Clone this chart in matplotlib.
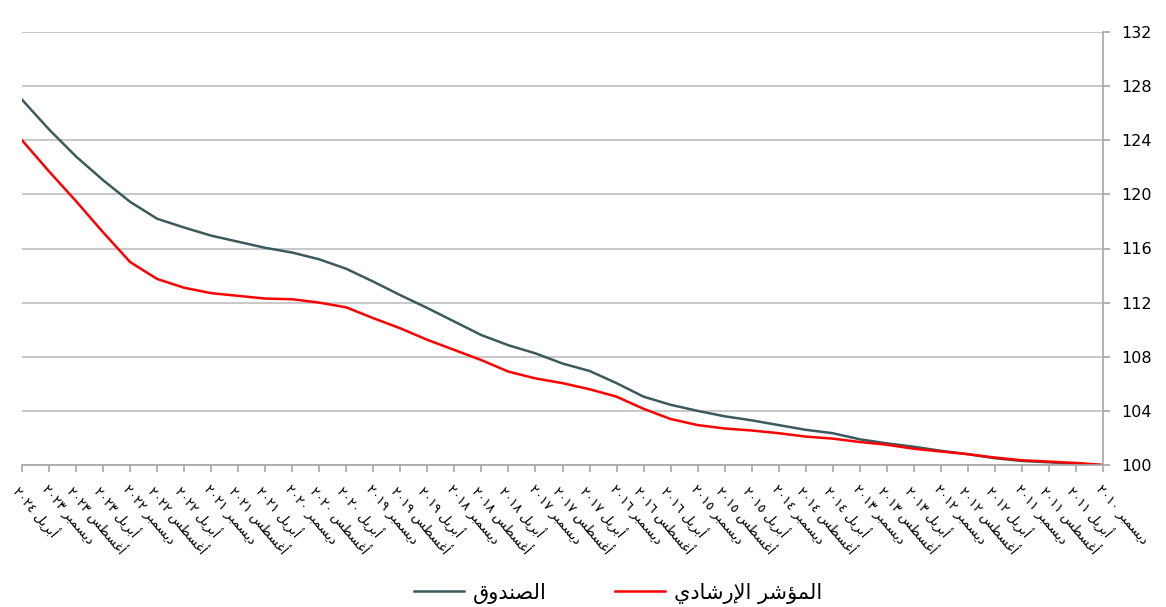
import numpy as np
import matplotlib
matplotlib.use("Agg")
import matplotlib.pyplot as plt

# ---- data (chronological: Dec 2010 -> Apr 2024, every 4 months) ----
months = ["ديسمبر", "أبريل", "أغسطس"]
start_year = 2010
n_points = 41

fund = [100.0, 100.1, 100.2, 100.3, 100.5, 100.8, 101.05, 101.35, 101.6, 101.9,
        102.35, 102.6, 102.95, 103.3, 103.6, 104.0, 104.45, 105.05, 106.05, 106.95,
        107.5, 108.25, 108.85, 109.6, 110.6, 111.6, 112.55, 113.55, 114.5, 115.2,
        115.7, 116.05, 116.5, 116.95, 117.55, 118.2, 119.45, 121.05, 122.8, 124.8,
        127.0]
benchmark = [100.0, 100.15, 100.25, 100.35, 100.55, 100.8, 101.0, 101.2, 101.5, 101.7,
             101.95, 102.1, 102.35, 102.55, 102.7, 102.95, 103.4, 104.15, 105.05, 105.6,
             106.05, 106.4, 106.9, 107.75, 108.5, 109.25, 110.1, 110.85, 111.65, 112.0,
             112.25, 112.3, 112.5, 112.7, 113.1, 113.75, 115.0, 117.2, 119.5, 121.7,
             124.0]

fund_label = "الصندوق"
bench_label = "المؤشر الإرشادي"
yticks = list(range(100, 133, 4))

# ---- minimal Arabic shaping (presentation forms) ----
FORMS = {
    "ا": ("\uFE8D", "\uFE8E", None, None),
    "أ": ("\uFE83", "\uFE84", None, None),
    "إ": ("\uFE87", "\uFE88", None, None),
    "ؤ": ("\uFE85", "\uFE86", None, None),
    "د": ("\uFEA9", "\uFEAA", None, None),
    "ر": ("\uFEAD", "\uFEAE", None, None),
    "و": ("\uFEED", "\uFEEE", None, None),
    "ب": ("\uFE8F", "\uFE90", "\uFE91", "\uFE92"),
    "س": ("\uFEB1", "\uFEB2", "\uFEB3", "\uFEB4"),
    "ش": ("\uFEB5", "\uFEB6", "\uFEB7", "\uFEB8"),
    "ص": ("\uFEB9", "\uFEBA", "\uFEBB", "\uFEBC"),
    "ط": ("\uFEC1", "\uFEC2", "\uFEC3", "\uFEC4"),
    "غ": ("\uFECD", "\uFECE", "\uFECF", "\uFED0"),
    "ق": ("\uFED5", "\uFED6", "\uFED7", "\uFED8"),
    "ل": ("\uFEDD", "\uFEDE", "\uFEDF", "\uFEE0"),
    "م": ("\uFEE1", "\uFEE2", "\uFEE3", "\uFEE4"),
    "ن": ("\uFEE5", "\uFEE6", "\uFEE7", "\uFEE8"),
    "ي": ("\uFEF1", "\uFEF2", "\uFEF3", "\uFEF4"),
    "\uFEF9": ("\uFEF9", "\uFEFA", None, None),
    "\uFEF7": ("\uFEF7", "\uFEF8", None, None),
    "\uFEFB": ("\uFEFB", "\uFEFC", None, None),
}


def shape(text):
    text = text.replace("لإ", "\uFEF9").replace("لأ", "\uFEF7").replace("لا", "\uFEFB")
    out = []
    for i, ch in enumerate(text):
        if ch not in FORMS:
            out.append(ch)
            continue
        prev = text[i - 1] if i > 0 else None
        nxt = text[i + 1] if i + 1 < len(text) else None
        joins_prev = prev in FORMS and FORMS[prev][2] is not None
        joins_next = FORMS[ch][2] is not None and nxt in FORMS
        iso, fin, ini, med = FORMS[ch]
        if joins_prev and joins_next:
            out.append(med)
        elif joins_prev:
            out.append(fin)
        elif joins_next:
            out.append(ini)
        else:
            out.append(iso)
    return "".join(reversed(out))


def arabic_digits(n):
    return "".join(chr(0x0660 + int(d)) for d in str(n))


labels = []
for i in range(n_points):
    m = 11 + 4 * i  # month index from Dec 2010
    year = start_year + m // 12
    labels.append(arabic_digits(year) + " " + shape(months[i % 3]))

x = np.arange(n_points)

fig = plt.figure(figsize=(11.66, 6.07), dpi=100)
ax = fig.add_axes([22 / 1166, 1 - 465 / 607, (1103 - 22) / 1166, (465 - 32) / 607])

ax.plot(x, fund, color="#3b5a5e", linewidth=1.8, label=shape(fund_label))
ax.plot(x, benchmark, color="#ff0000", linewidth=1.8, label=shape(bench_label))

ax.set_xlim(n_points - 1, 0)
ax.set_ylim(100, 132)
ax.set_yticks(yticks)
ax.yaxis.tick_right()
ax.yaxis.set_label_position("right")
ax.grid(axis="y", color="#bfbfbf", linewidth=1.2)
ax.set_axisbelow(True)

for side in ["left", "top"]:
    ax.spines[side].set_visible(False)
for side in ["right", "bottom"]:
    ax.spines[side].set_color("#a6a6a6")
    ax.spines[side].set_linewidth(1.2)

ax.tick_params(axis="y", colors="#a6a6a6", length=5, width=1.2, labelcolor="black",
               labelsize=11.5, pad=8)
ax.set_xticks(x)
ax.set_xticklabels(labels, rotation=-50, ha="left", va="top",
                   rotation_mode="anchor", fontsize=9.5)
ax.tick_params(axis="x", colors="#a6a6a6", length=5, width=1.2, labelcolor="black",
               pad=8)

handles, lbls = ax.get_legend_handles_labels()
fig.legend(handles, lbls, loc="center", bbox_to_anchor=(0.53, 0.023), ncol=2,
           frameon=False, fontsize=15, handlelength=2.4, columnspacing=3.3,
           handletextpad=0.4)

fig.savefig("out.png", dpi=100)
